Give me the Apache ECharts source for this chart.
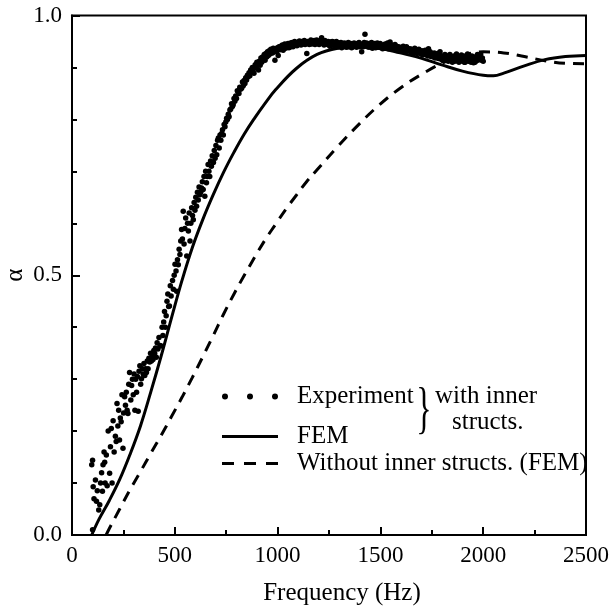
<!DOCTYPE html>
<html><head><meta charset="utf-8">
<script src="https://cdn.jsdelivr.net/npm/echarts@6/dist/echarts.min.js"></script>
<style>html,body{margin:0;padding:0;background:#fff}#c{width:612px;height:606px}</style>
</head><body><div id="c"></div>
<script>
const FONT = '"Liberation Serif", "Times New Roman", serif';

const seriesNames = ['Experiment', 'FEM', 'Without inner structs. (FEM)'];
const xTickValues = [0, 500, 1000, 1500, 2000, 2500];
const yTickValues = [0.0, 0.5, 1.0];

// FEM with inner structures (solid)
const femFreq  = [96, 131, 181, 232, 282, 333, 383, 434, 484, 535, 585, 636, 687, 737, 788, 838, 889, 939, 990, 1091, 1192, 1293, 1394, 1495, 1596, 1697, 1798, 1899, 2000, 2050, 2100, 2200, 2300, 2400, 2500];
const femAlpha = [0.0, 0.03, 0.066, 0.107, 0.155, 0.21, 0.275, 0.345, 0.418, 0.49, 0.553, 0.607, 0.655, 0.698, 0.737, 0.772, 0.803, 0.831, 0.857, 0.898, 0.925, 0.937, 0.94, 0.937, 0.928, 0.918, 0.905, 0.893, 0.885, 0.884, 0.889, 0.903, 0.915, 0.921, 0.923];

// FEM without inner structures (dashed)
const noStructFreq  = [166, 181, 232, 282, 333, 383, 434, 484, 535, 585, 636, 687, 737, 788, 838, 889, 939, 990, 1040, 1091, 1141, 1192, 1293, 1394, 1495, 1596, 1697, 1798, 1899, 2000, 2100, 2200, 2300, 2400, 2500];
const noStructAlpha = [0.0, 0.012, 0.05, 0.087, 0.122, 0.157, 0.192, 0.228, 0.265, 0.303, 0.343, 0.384, 0.425, 0.464, 0.50, 0.535, 0.568, 0.598, 0.627, 0.654, 0.68, 0.703, 0.748, 0.79, 0.828, 0.86, 0.886, 0.908, 0.923, 0.93, 0.928, 0.921, 0.913, 0.908, 0.907];

// Experiment with inner structures (dots): [frequency, alpha]
const experiment = [
[100,0.01],[96,0.135],[100,0.144],[103,0.093],[107,0.07],[114,0.106],[119,0.065],[123,0.085],[130,0.048],[135,0.058],
[139,0.1],[144,0.12],[148,0.084],[151,0.135],[156,0.16],[159,0.14],[161,0.1],[167,0.154],[171,0.095],[176,0.2],
[183,0.119],[187,0.17],[191,0.205],[195,0.1],[200,0.22],[205,0.16],[211,0.19],[215,0.18],[219,0.253],[223,0.21],
[227,0.24],[231,0.183],[235,0.225],[239,0.218],[243,0.27],[248,0.167],[251,0.235],[256,0.266],[260,0.25],[264,0.275],
[268,0.24],[272,0.234],[276,0.29],[280,0.313],[286,0.26],[290,0.288],[294,0.3],[298,0.27],[302,0.31],[306,0.24],
[310,0.3],[314,0.275],[318,0.305],[322,0.238],[326,0.315],[330,0.326],[334,0.29],[338,0.301],[342,0.32],[346,0.31],
[350,0.33],[354,0.307],[358,0.32],[362,0.313],[366,0.335],[370,0.32],[374,0.34],[378,0.333],[382,0.35],[386,0.335],
[390,0.345],[394,0.338],[398,0.355],[402,0.35],[406,0.36],[410,0.342],[414,0.37],[418,0.358],[423,0.38],[428,0.365],
[434,0.364],[438,0.4],[442,0.384],[446,0.41],[450,0.43],[454,0.4],[458,0.422],[462,0.45],[466,0.464],[470,0.44],
[474,0.441],[478,0.48],[482,0.46],[489,0.49],[493,0.473],[497,0.5],[501,0.521],[506,0.508],[509,0.469],[513,0.53],
[517,0.52],[521,0.55],[525,0.54],[529,0.566],[533,0.588],[537,0.57],[541,0.623],[545,0.56],[549,0.59],[553,0.61],
[558,0.537],[562,0.6],[566,0.585],[570,0.62],[574,0.566],[578,0.6],[582,0.63],[586,0.615],[590,0.607],[594,0.64],
[598,0.625],[602,0.65],[606,0.633],[610,0.66],[614,0.645],[618,0.67],[622,0.655],[626,0.66],[630,0.668],[634,0.68],
[638,0.665],[642,0.69],[646,0.652],[650,0.7],[654,0.678],[658,0.69],[662,0.713],[666,0.7],[670,0.69],[674,0.72],
[678,0.71],[682,0.73],[688,0.717],[692,0.74],[696,0.725],[700,0.75],[704,0.732],[708,0.76],[712,0.764],[716,0.745],
[720,0.77],[724,0.76],[728,0.773],[732,0.78],[736,0.77],[740,0.79],[744,0.786],[748,0.795],[752,0.802],[756,0.8],
[760,0.81],[764,0.805],[768,0.818],[772,0.82],[776,0.83],[780,0.825],[784,0.828],[788,0.84],[792,0.835],[796,0.845],
[800,0.84],[804,0.855],[808,0.853],[812,0.85],[816,0.862],[820,0.858],[825,0.86],[829,0.872],[833,0.865],[837,0.875],
[841,0.869],[845,0.88],[849,0.876],[853,0.885],[857,0.882],[861,0.89],[865,0.884],[869,0.895],[873,0.891],[877,0.9],
[881,0.895],[885,0.889],[891,0.905],[895,0.9],[899,0.91],[903,0.904],[907,0.895],[911,0.912],[915,0.904],[919,0.918],
[923,0.91],[927,0.92],[931,0.915],[935,0.925],[939,0.914],[943,0.927],[947,0.92],[951,0.93],[955,0.923],[959,0.932],
[963,0.926],[967,0.935],[971,0.933],[975,0.928],[979,0.937],[983,0.93],[987,0.914],[991,0.935],[995,0.93],[999,0.938],
[1003,0.923],[1007,0.94],[1011,0.934],[1015,0.941],[1019,0.936],[1023,0.943],[1027,0.933],[1031,0.94],[1035,0.945],[1039,0.937],
[1043,0.944],[1047,0.94],[1051,0.946],[1055,0.938],[1059,0.939],[1063,0.947],[1067,0.942],[1071,0.948],[1075,0.94],[1079,0.945],
[1083,0.95],[1087,0.943],[1094,0.942],[1098,0.948],[1102,0.944],[1106,0.951],[1110,0.949],[1114,0.943],[1118,0.95],[1122,0.945],
[1126,0.946],[1130,0.952],[1134,0.944],[1138,0.949],[1142,0.927],[1146,0.95],[1150,0.949],[1154,0.944],[1158,0.949],[1162,0.953],
[1166,0.945],[1170,0.95],[1174,0.946],[1178,0.952],[1182,0.944],[1186,0.948],[1190,0.953],[1194,0.946],[1198,0.95],[1202,0.944],
[1206,0.951],[1210,0.947],[1214,0.957],[1218,0.946],[1222,0.95],[1226,0.943],[1230,0.952],[1234,0.946],[1238,0.949],[1242,0.944],
[1246,0.95],[1250,0.946],[1254,0.941],[1258,0.949],[1262,0.944],[1266,0.95],[1270,0.949],[1274,0.942],[1278,0.947],[1282,0.943],
[1286,0.95],[1290,0.945],[1296,0.94],[1300,0.947],[1304,0.943],[1308,0.948],[1312,0.938],[1316,0.945],[1320,0.941],[1324,0.947],
[1328,0.94],[1332,0.946],[1336,0.939],[1340,0.944],[1344,0.948],[1348,0.94],[1352,0.943],[1356,0.946],[1360,0.938],[1364,0.944],
[1368,0.94],[1372,0.947],[1376,0.941],[1380,0.945],[1384,0.939],[1388,0.946],[1392,0.942],[1396,0.948],[1400,0.94],[1404,0.944],
[1409,0.93],[1413,0.945],[1417,0.94],[1421,0.948],[1425,0.964],[1429,0.942],[1433,0.947],[1437,0.94],[1441,0.945],[1445,0.939],
[1449,0.946],[1453,0.941],[1457,0.948],[1461,0.937],[1465,0.944],[1469,0.94],[1473,0.946],[1477,0.938],[1481,0.943],[1485,0.947],
[1489,0.939],[1493,0.944],[1499,0.946],[1503,0.938],[1507,0.943],[1511,0.936],[1515,0.942],[1519,0.938],[1523,0.945],[1527,0.937],
[1531,0.941],[1535,0.947],[1539,0.936],[1543,0.942],[1547,0.949],[1551,0.938],[1555,0.943],[1559,0.935],[1563,0.94],[1567,0.937],
[1571,0.944],[1575,0.936],[1579,0.941],[1583,0.934],[1587,0.94],[1591,0.936],[1595,0.939],[1599,0.933],[1603,0.938],[1607,0.935],
[1611,0.941],[1615,0.932],[1619,0.937],[1623,0.934],[1627,0.94],[1631,0.931],[1635,0.936],[1639,0.933],[1643,0.936],[1647,0.93],
[1651,0.935],[1655,0.928],[1659,0.934],[1663,0.93],[1667,0.937],[1671,0.929],[1675,0.933],[1679,0.927],[1683,0.932],[1687,0.935],
[1692,0.93],[1698,0.926],[1702,0.932],[1706,0.924],[1710,0.93],[1714,0.927],[1718,0.933],[1722,0.925],[1726,0.93],[1730,0.922],
[1734,0.936],[1738,0.926],[1742,0.93],[1746,0.921],[1750,0.927],[1754,0.924],[1758,0.92],[1762,0.928],[1766,0.918],[1770,0.925],
[1774,0.921],[1778,0.927],[1782,0.917],[1786,0.924],[1790,0.93],[1794,0.92],[1798,0.915],[1802,0.922],[1806,0.913],[1810,0.92],
[1814,0.925],[1818,0.915],[1822,0.917],[1826,0.922],[1830,0.912],[1834,0.918],[1838,0.925],[1842,0.915],[1846,0.92],[1850,0.91],
[1854,0.914],[1858,0.922],[1862,0.912],[1866,0.918],[1870,0.926],[1874,0.913],[1878,0.919],[1882,0.91],[1886,0.92],[1890,0.915],
[1894,0.924],[1900,0.912],[1904,0.918],[1908,0.91],[1912,0.91],[1916,0.92],[1920,0.914],[1924,0.926],[1928,0.912],[1932,0.918],
[1937,0.917],[1941,0.91],[1945,0.922],[1949,0.915],[1953,0.909],[1957,0.92],[1960,0.91],[1964,0.918],[1968,0.913],[1972,0.925],
[1976,0.923],[1980,0.915],[1984,0.92],[1988,0.926],[1992,0.914],[1996,0.918],[2000,0.912]
];

const femData = femFreq.map((f, i) => [f, femAlpha[i]]);
const noStructData = noStructFreq.map((f, i) => [f, noStructAlpha[i]]);

const dotsIcon = 'path://M0,3a3,3 0 1,0 6,0a3,3 0 1,0 -6,0zM25,3a3,3 0 1,0 6,0a3,3 0 1,0 -6,0zM50,3a3,3 0 1,0 6,0a3,3 0 1,0 -6,0z';
const solidIcon = 'path://M0,0h56v3h-56z';
const dashIcon = 'path://M0,0h12v3h-12zM22,0h12v3h-12zM44,0h12v3h-12z';

function legendCfg(name, icon, top, h, pad) {
  return {
    data: [{ name: name, icon: icon, itemStyle: { color: '#000', borderWidth: 0 } }],
    left: 222, top: top, padding: 0, itemWidth: 56, itemHeight: h,
    selectedMode: false,
    textStyle: { fontSize: 25, fontFamily: FONT, color: '#000', lineHeight: 25, padding: pad }
  };
}

const chart = echarts.init(document.getElementById('c'), null, { renderer: 'canvas' });
const axisCommon = {
  type: 'value',
  nameLocation: 'middle',
  nameMoveOverlap: false,
  axisLine: { show: true, lineStyle: { color: '#000', width: 2 } },
  axisTick: { show: true, inside: true, length: 8, lineStyle: { color: '#000', width: 2 } },
  splitLine: { show: false },
  minorSplitLine: { show: false }
};
chart.setOption({
  animation: false,
  backgroundColor: '#fff',
  grid: { left: 72, right: 26, top: 15.5, bottom: 71, show: true, borderColor: '#000', borderWidth: 2, containLabel: false, outerBoundsMode: 'none' },
  xAxis: Object.assign({}, axisCommon, {
    min: xTickValues[0], max: xTickValues[xTickValues.length - 1], interval: 500,
    name: 'Frequency (Hz)', nameGap: 46,
    nameTextStyle: { fontSize: 25, fontFamily: FONT, color: '#000', padding: [0, 0, 0, 26] },
    minorTick: { show: true, splitNumber: 2, length: 5, lineStyle: { color: '#000', width: 2 } },
    axisLabel: { fontSize: 23, fontFamily: FONT, color: '#000', margin: 9, formatter: v => String(v) }
  }),
  yAxis: Object.assign({}, axisCommon, {
    min: yTickValues[0], max: yTickValues[yTickValues.length - 1], interval: 0.5,
    name: 'α', nameGap: 44,
    nameTextStyle: { fontSize: 25, fontFamily: FONT, color: '#000' },
    minorTick: { show: true, splitNumber: 5, length: 5, lineStyle: { color: '#000', width: 2 } },
    axisLabel: { fontSize: 23, fontFamily: FONT, color: '#000', margin: 10, formatter: v => v.toFixed(1) }
  }),
  legend: [
    legendCfg(seriesNames[0], dotsIcon, 376, 6, [0, 0, 16, 14]),
    legendCfg(seriesNames[1], solidIcon, 421, 3, [0, 0, 6, 14]),
    legendCfg(seriesNames[2], dashIcon, 448, 3, [0, 0, 6, 14])
  ],
  graphic: [
    { type: 'text', x: 424, y: 412, scaleX: 0.55, style: { text: '}', font: '58px ' + FONT, fill: '#000', align: 'center', verticalAlign: 'middle' } },
    { type: 'text', x: 435, y: 396, style: { text: 'with inner', font: '25px ' + FONT, fill: '#000', align: 'left', verticalAlign: 'middle' } },
    { type: 'text', x: 452, y: 422, style: { text: 'structs.', font: '25px ' + FONT, fill: '#000', align: 'left', verticalAlign: 'middle' } }
  ],
  series: [
    { name: seriesNames[0], type: 'scatter', data: experiment, symbol: 'circle', symbolSize: 5.5, itemStyle: { color: '#000', opacity: 1 }, z: 3 },
    { name: seriesNames[1], type: 'line', data: femData, smooth: 0.4, symbol: 'none', lineStyle: { color: '#000', width: 3 }, itemStyle: { color: '#000' }, z: 2 },
    { name: seriesNames[2], type: 'line', data: noStructData, smooth: 0.4, symbol: 'none', lineStyle: { color: '#000', width: 3, type: [11, 8] }, itemStyle: { color: '#000' }, z: 2 }
  ]
});
</script></body></html>
